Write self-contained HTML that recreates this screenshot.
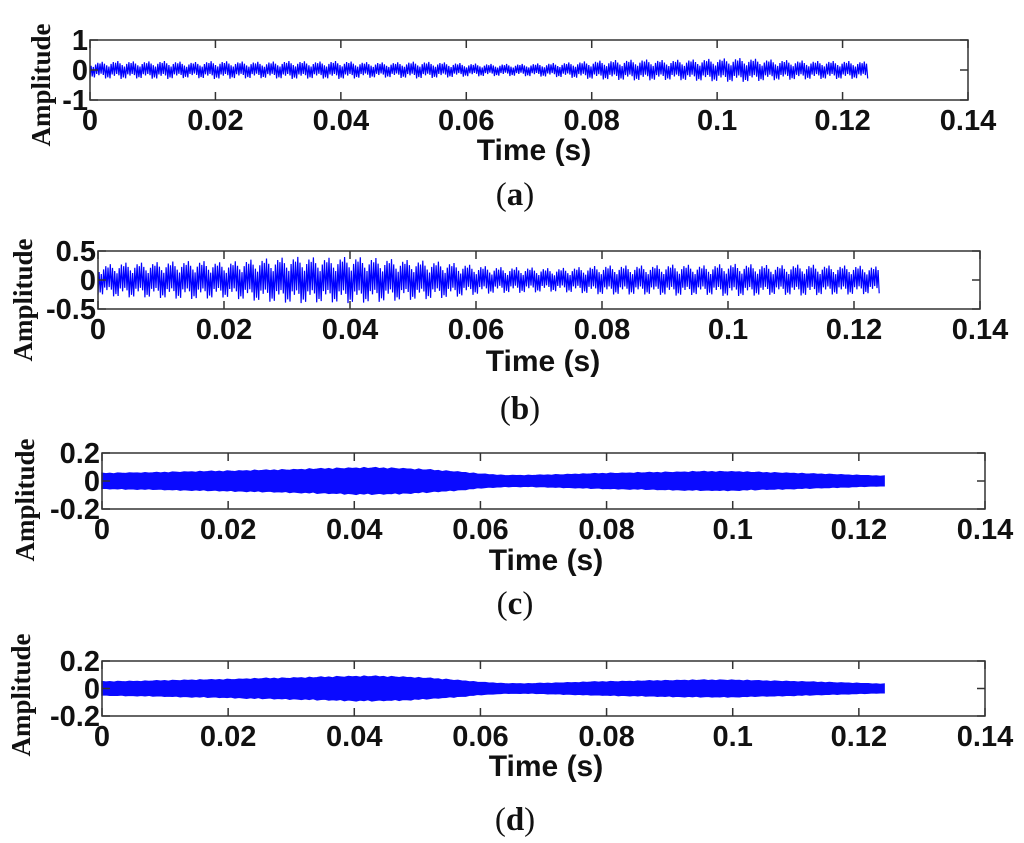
<!DOCTYPE html>
<html><head><meta charset="utf-8"><style>
html,body{margin:0;padding:0;background:#fff;}
svg{display:block;}
.tk{font-family:"Liberation Sans",sans-serif;font-weight:bold;font-size:29px;fill:#111;}
.xt{font-family:"Liberation Sans",sans-serif;font-weight:bold;font-size:30px;fill:#111;}
.yl{font-family:"Liberation Serif",serif;font-weight:bold;font-size:27px;fill:#111;}
.cap{font-family:"Liberation Serif",serif;font-size:33px;fill:#111;}
</style></head><body>
<svg id="fig" width="1024" height="843" viewBox="0 0 1024 843"></svg>
<script>
// envelope samples every 0.004 s from 0 to 0.124 (32 points)
const envTimes = [0,0.004,0.008,0.012,0.016,0.02,0.024,0.028,0.032,0.036,0.04,0.044,0.048,0.052,0.056,0.06,0.064,0.068,0.072,0.076,0.08,0.084,0.088,0.092,0.096,0.1,0.104,0.108,0.112,0.116,0.12,0.124];
const envA = [0.25,0.3,0.28,0.3,0.26,0.3,0.28,0.27,0.3,0.28,0.3,0.26,0.25,0.28,0.26,0.22,0.2,0.2,0.22,0.25,0.3,0.33,0.35,0.33,0.35,0.38,0.4,0.35,0.32,0.3,0.3,0.28];
const envB = [0.25,0.3,0.3,0.32,0.33,0.3,0.35,0.38,0.4,0.38,0.4,0.38,0.35,0.33,0.3,0.25,0.22,0.22,0.2,0.22,0.25,0.25,0.25,0.27,0.25,0.28,0.27,0.25,0.27,0.25,0.25,0.23];
const envC = [0.055,0.058,0.06,0.065,0.068,0.072,0.076,0.08,0.085,0.09,0.095,0.095,0.09,0.08,0.068,0.05,0.04,0.04,0.045,0.05,0.055,0.058,0.062,0.065,0.068,0.068,0.062,0.058,0.052,0.047,0.04,0.035];
const envD = [0.05,0.052,0.055,0.06,0.063,0.067,0.072,0.076,0.08,0.085,0.09,0.09,0.085,0.075,0.062,0.045,0.035,0.035,0.04,0.045,0.05,0.053,0.057,0.06,0.062,0.062,0.057,0.053,0.048,0.043,0.037,0.032];
const xTicks = [0,0.02,0.04,0.06,0.08,0.1,0.12,0.14];
const xTickLabels = ["0","0.02","0.04","0.06","0.08","0.1","0.12","0.14"];
const yTicksA = [-1,0,1], yLabelsA = ["-1","0","1"];
const yTicksB = [-0.5,0,0.5], yLabelsB = ["-0.5","0","0.5"];
const yTicksC = [-0.2,0,0.2], yLabelsC = ["-0.2","0","0.2"];

const NS = "http://www.w3.org/2000/svg";
const svg = document.getElementById('fig');
function mk(tag, attrs, parent){const e=document.createElementNS(NS,tag);for(const k in attrs)e.setAttribute(k,attrs[k]);(parent||svg).appendChild(e);return e;}
const jit = [1,0.55,0.85,0.4,0.95,0.7,0.5,0.9,0.65,0.8,0.45,1,0.6,0.75];
function envAt(env,t){const i=Math.min(env.length-2,Math.floor(t/0.004));const f=(t-envTimes[i])/0.004;return env[i]*(1-f)+env[i+1]*f;}

function panel(cfg){
  const g = mk('g',{});
  
  
  const {L,R,T,B,yMin,yMax} = cfg;
  const X = t => L + (t-0)/(0.14-0)*(R-L);
  const Y = v => B - (v-yMin)/(yMax-yMin)*(B-T);
  const tEnd = envTimes[envTimes.length-1];
  if(cfg.filled){
    let top=[],bot=[];
    const n=200;
    for(let k=0;k<=n;k++){const t=tEnd*k/n;const e=envAt(cfg.env,t);const a=e*(0.82+0.18*jit[k%jit.length]);const b=e*(0.82+0.18*jit[(k+5)%jit.length]);top.push(X(t).toFixed(1)+','+Y(a).toFixed(1));bot.push(X(t).toFixed(1)+','+Y(-b).toFixed(1));}
    const p = mk('polygon',{points:top.concat(bot.reverse()).join(' '),fill:'#0a0aff',stroke:'#0a0aff','stroke-width':1.5},g);
    
    
  } else {
    let pts=[];
    const n=700;
    for(let k=0;k<=n;k++){const t=tEnd*k/n;const e=envAt(cfg.env,t)*jit[k%jit.length];const s=(k%2?1:-1);pts.push(X(t).toFixed(1)+','+Y(s*e).toFixed(1));}
    const p = mk('polyline',{points:pts.join(' '),fill:'none',stroke:'#0000ff','stroke-width':1.2},g);
    
    
  }
  const box = mk('rect',{x:L,y:T,width:R-L,height:B-T,fill:'none',stroke:'#333','stroke-width':1.5},g);
  
  
  xTicks.forEach((t,i)=>{
    mk('line',{x1:X(t),x2:X(t),y1:B,y2:B-8,stroke:'#333','stroke-width':1.5},g);
    mk('line',{x1:X(t),x2:X(t),y1:T,y2:T+8,stroke:'#333','stroke-width':1.5},g);
    const tx = mk('text',{x:X(t),y:B+30,'text-anchor':'middle',class:'tk'},g);
    tx.textContent = xTickLabels[i];
    
    
  });
  cfg.yTicks.forEach((v,i)=>{
    mk('line',{x1:L,x2:L+8,y1:Y(v),y2:Y(v),stroke:'#333','stroke-width':1.5},g);
    mk('line',{x1:R,x2:R-8,y1:Y(v),y2:Y(v),stroke:'#333','stroke-width':1.5},g);
    const tx = mk('text',{x:L-2,y:Y(v)+10,'text-anchor':'end',class:'tk'},g);
    tx.textContent = cfg.yLabels[i];
    
    
  });
  const xt = mk('text',{x:cfg.xtX,y:cfg.xtY,'text-anchor':'middle',class:'xt'},g);
  xt.textContent='Time (s)';
  
  
  const yl = mk('text',{x:0,y:0,'text-anchor':'middle',class:'yl',transform:`translate(${cfg.ylX},${cfg.ylY}) rotate(-90)`},g);
  yl.textContent='Amplitude';
  
  
  const cap = mk('text',{x:cfg.capX,y:cfg.capY,'text-anchor':'middle',class:'cap'},g);
  cap.innerHTML = '(<tspan font-weight="bold">'+cfg.letter+'</tspan>)';
  
  
}
panel({name:'panel-a',L:90,R:968,T:40,B:100,yMin:-1,yMax:1,env:envA,filled:false,yTicks:yTicksA,yLabels:yLabelsA,xtX:534,xtY:160,ylX:50,ylY:85,capX:515,capY:205,letter:'a'});
panel({name:'panel-b',L:98,R:980,T:251,B:309,yMin:-0.5,yMax:0.5,env:envB,filled:false,yTicks:yTicksB,yLabels:yLabelsB,xtX:543,xtY:371,ylX:32,ylY:300,capX:520,capY:419,letter:'b'});
panel({name:'panel-c',L:102,R:985,T:453,B:509,yMin:-0.2,yMax:0.2,env:envC,filled:true,yTicks:yTicksC,yLabels:yLabelsC,xtX:546,xtY:570,ylX:34,ylY:500,capX:515,capY:614,letter:'c'});
panel({name:'panel-d',L:102,R:985,T:661,B:716,yMin:-0.2,yMax:0.2,env:envD,filled:true,yTicks:yTicksC,yLabels:yLabelsC,xtX:546,xtY:776,ylX:30,ylY:695,capX:515,capY:830,letter:'d'});
</script>
</body></html>
